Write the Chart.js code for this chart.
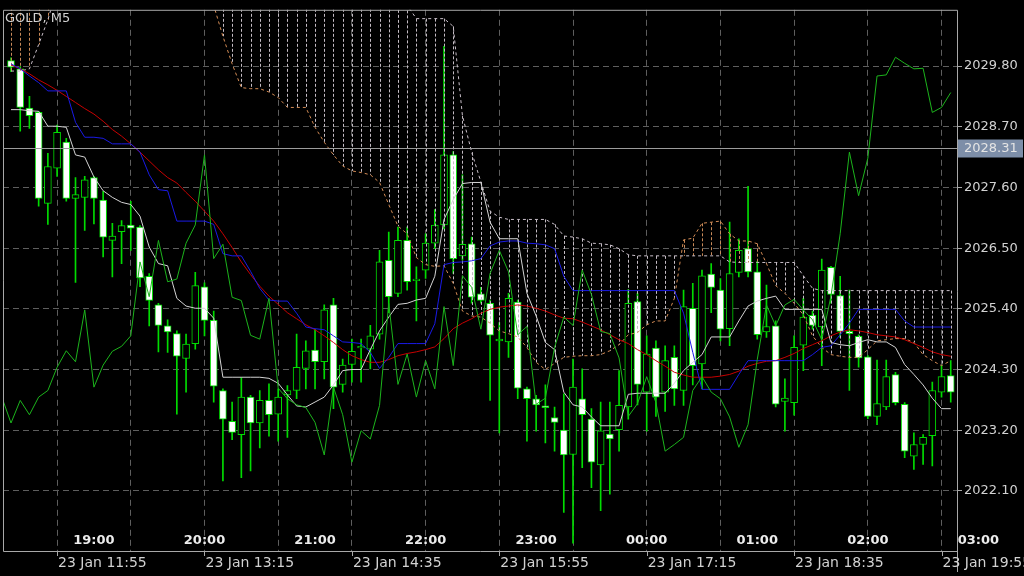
<!DOCTYPE html>
<html>
<head>
<meta charset="utf-8">
<title>GOLD, M5</title>
<script src="https://cdn.jsdelivr.net/npm/chart.js@4.4.1/dist/chart.umd.min.js"></script>
<style>
  html, body { margin: 0; padding: 0; background: #000; overflow: hidden; }
  canvas { display: block; }
</style>
</head>
<body>
<canvas id="chart" width="1024" height="576"></canvas>
<script>
// ---- GOLD M5 : velas + Ichimoku + media ----

const symbolTitle = "GOLD, M5";
const lastPrice = 2028.31;

// OHLC por vela (103 velas, de izquierda a derecha)
const opens = [
  2029.90, 2029.75, 2029.04, 2028.96, 2027.31, 2027.95, 2028.42, 2027.40, 2027.42, 2027.78,
  2027.37, 2026.64, 2026.80, 2026.92, 2026.88, 2025.99, 2025.47, 2025.09, 2024.95, 2024.50,
  2024.77, 2025.80, 2025.19, 2023.92, 2023.36, 2023.12, 2023.80, 2023.33, 2023.74, 2023.49,
  2023.84, 2023.92, 2024.32, 2024.65, 2024.44, 2025.47, 2024.03, 2024.39, 2024.69, 2024.67,
  2024.94, 2026.28, 2025.68, 2026.64, 2025.91, 2026.10, 2026.59, 2026.92, 2028.19, 2026.36,
  2026.58, 2025.67, 2025.50, 2024.82, 2024.80, 2025.52, 2023.95, 2023.77, 2023.64, 2023.43,
  2023.20, 2022.76, 2023.77, 2023.40, 2022.57, 2023.13, 2023.21, 2023.62, 2025.53, 2023.89,
  2024.69, 2023.89, 2024.52, 2023.92, 2025.41, 2024.40, 2026.03, 2025.74, 2025.04, 2026.06,
  2026.49, 2026.07, 2024.98, 2025.09, 2023.72, 2023.70, 2024.74, 2025.28, 2025.07, 2026.15,
  2025.64, 2024.99, 2024.90, 2024.53, 2023.45, 2023.62, 2024.21, 2023.67, 2022.73, 2022.94,
  2023.10, 2023.89, 2024.19
];
const highs = [
  2029.95, 2029.79, 2029.25, 2028.98, 2028.22, 2028.73, 2028.49, 2027.78, 2027.80, 2027.80,
  2027.53, 2026.95, 2027.00, 2027.35, 2026.91, 2026.04, 2025.50, 2025.20, 2025.00, 2024.94,
  2026.06, 2025.87, 2025.36, 2023.95, 2023.71, 2024.16, 2023.83, 2023.92, 2024.04, 2023.95,
  2024.01, 2024.94, 2024.82, 2025.03, 2025.47, 2025.59, 2024.49, 2024.85, 2024.85, 2025.10,
  2026.46, 2026.79, 2026.88, 2026.88, 2026.16, 2026.76, 2027.20, 2030.16, 2028.25, 2027.83,
  2026.70, 2025.79, 2025.56, 2025.15, 2025.68, 2025.56, 2023.98, 2023.83, 2024.02, 2023.62,
  2023.86, 2024.49, 2024.31, 2023.59, 2023.71, 2023.71, 2024.28, 2025.75, 2025.68, 2024.91,
  2024.82, 2024.73, 2024.73, 2025.74, 2025.86, 2026.10, 2026.22, 2025.95, 2026.97, 2026.67,
  2027.62, 2026.26, 2025.83, 2025.18, 2024.13, 2024.91, 2025.59, 2025.36, 2026.30, 2026.17,
  2025.99, 2025.74, 2024.93, 2024.55, 2024.47, 2024.47, 2024.25, 2023.70, 2023.15, 2023.12,
  2024.07, 2024.37, 2024.46
];
const lows = [
  2029.70, 2028.62, 2028.67, 2027.26, 2026.93, 2027.80, 2027.35, 2025.88, 2026.82, 2026.94,
  2026.34, 2025.98, 2026.22, 2026.46, 2025.80, 2025.09, 2024.62, 2024.61, 2023.49, 2023.89,
  2024.67, 2024.91, 2023.71, 2022.28, 2023.03, 2022.34, 2022.46, 2022.88, 2023.09, 2023.00,
  2023.07, 2023.77, 2023.95, 2023.95, 2024.13, 2023.59, 2023.89, 2024.07, 2024.07, 2024.31,
  2024.85, 2025.33, 2025.62, 2025.74, 2025.18, 2025.95, 2026.49, 2026.85, 2026.04, 2026.28,
  2025.50, 2025.50, 2023.74, 2023.15, 2024.52, 2023.77, 2023.00, 2023.18, 2022.97, 2022.82,
  2021.71, 2021.15, 2022.52, 2022.16, 2021.74, 2022.04, 2022.82, 2023.40, 2023.66, 2023.18,
  2023.45, 2023.54, 2023.65, 2023.65, 2024.02, 2023.95, 2025.33, 2024.82, 2024.73, 2025.98,
  2025.98, 2024.85, 2024.88, 2023.62, 2023.18, 2023.47, 2024.28, 2025.03, 2024.37, 2025.50,
  2024.88, 2023.92, 2024.34, 2023.41, 2023.30, 2023.57, 2023.66, 2022.70, 2022.49, 2022.58,
  2022.55, 2023.80, 2023.71
];
const closes = [
  2029.78, 2029.05, 2028.90, 2027.40, 2027.98, 2028.60, 2027.40, 2027.47, 2027.74, 2027.40,
  2026.70, 2026.72, 2026.91, 2026.86, 2025.96, 2025.55, 2025.10, 2024.98, 2024.54, 2024.76,
  2025.82, 2025.19, 2024.00, 2023.40, 2023.16, 2023.80, 2023.33, 2023.74, 2023.48, 2023.80,
  2023.92, 2024.34, 2024.64, 2024.44, 2025.38, 2023.98, 2024.38, 2024.63, 2024.72, 2024.91,
  2026.25, 2025.62, 2026.64, 2025.89, 2025.94, 2026.59, 2026.92, 2028.19, 2026.31, 2026.57,
  2025.61, 2025.55, 2024.92, 2024.85, 2025.59, 2023.96, 2023.77, 2023.66, 2023.61, 2023.34,
  2022.75, 2023.98, 2023.48, 2022.62, 2023.19, 2023.04, 2023.65, 2025.50, 2024.03, 2024.58,
  2023.80, 2024.46, 2023.95, 2025.44, 2024.37, 2026.00, 2025.79, 2025.03, 2026.04, 2026.46,
  2026.07, 2024.93, 2025.08, 2023.67, 2023.78, 2024.70, 2025.25, 2025.10, 2026.10, 2025.66,
  2024.99, 2024.95, 2024.51, 2023.45, 2023.68, 2024.17, 2023.70, 2022.82, 2022.94, 2023.07,
  2023.92, 2024.17, 2023.89
];

// Tenkan-sen (línea gris clara)
const tenkan = [
  2029.01, 2029.01, 2028.99, 2028.98, 2028.71, 2028.71, 2028.69, 2028.19, 2028.15, 2027.79,
  2027.54, 2027.42, 2027.33, 2027.29, 2027.08, 2026.52, 2026.22, 2026.18, 2025.59, 2025.45,
  2025.41, 2025.41, 2025.23, 2024.16, 2024.16, 2024.16, 2024.16, 2024.16, 2024.14, 2024.05,
  2023.84, 2023.64, 2023.62, 2023.71, 2023.80, 2024.02, 2024.28, 2024.30, 2024.30, 2024.66,
  2025.00, 2025.25, 2025.48, 2025.50, 2025.56, 2025.59, 2025.99, 2027.02, 2027.38, 2027.67,
  2027.69, 2027.69, 2026.97, 2026.67, 2026.67, 2026.67, 2025.68, 2025.27, 2024.79, 2024.66,
  2023.89, 2023.66, 2023.62, 2023.44, 2023.28, 2023.28, 2023.28, 2023.85, 2023.87, 2023.87,
  2023.87, 2023.87, 2024.05, 2024.28, 2024.43, 2024.57, 2024.89, 2024.89, 2024.89, 2025.18,
  2025.45, 2025.54, 2025.59, 2025.63, 2025.39, 2025.39, 2025.39, 2025.39, 2025.39, 2024.79,
  2024.75, 2024.73, 2024.79, 2024.84, 2024.80, 2024.80, 2024.70, 2024.39, 2024.21, 2024.02,
  2023.78, 2023.59, 2023.59
];

// Kijun-sen (azul)
const kijun = [
  2029.84, 2029.75, 2029.62, 2029.50, 2029.35, 2029.35, 2029.35, 2028.78, 2028.51, 2028.51,
  2028.49, 2028.39, 2028.39, 2028.39, 2028.24, 2027.83, 2027.56, 2027.54, 2026.99, 2026.99,
  2026.99, 2026.99, 2026.93, 2026.40, 2026.36, 2026.36, 2026.08, 2025.77, 2025.56, 2025.54,
  2025.54, 2025.32, 2025.07, 2025.04, 2025.02, 2024.91, 2024.80, 2024.79, 2024.77, 2024.61,
  2024.32, 2024.52, 2024.77, 2024.77, 2024.77, 2024.77, 2025.13, 2026.20, 2026.24, 2026.25,
  2026.27, 2026.31, 2026.54, 2026.61, 2026.63, 2026.63, 2026.59, 2026.58, 2026.56, 2026.49,
  2025.99, 2025.73, 2025.73, 2025.73, 2025.73, 2025.73, 2025.73, 2025.73, 2025.73, 2025.73,
  2025.73, 2025.73, 2025.73, 2025.32, 2024.61, 2023.94, 2023.94, 2023.94, 2023.94, 2024.21,
  2024.46, 2024.46, 2024.46, 2024.46, 2024.46, 2024.46, 2024.46, 2024.57, 2024.70, 2024.73,
  2024.93, 2025.14, 2025.39, 2025.39, 2025.39, 2025.39, 2025.39, 2025.18, 2025.07, 2025.07,
  2025.07, 2025.07, 2025.07
];

// Media móvil (roja)
const maLine = [
  2029.82, 2029.75, 2029.66, 2029.55, 2029.46, 2029.36, 2029.25, 2029.14, 2029.03, 2028.93,
  2028.80, 2028.65, 2028.53, 2028.39, 2028.24, 2028.08, 2027.92, 2027.78, 2027.68, 2027.51,
  2027.35, 2027.17, 2026.99, 2026.76, 2026.51, 2026.25, 2026.02, 2025.81, 2025.63, 2025.48,
  2025.33, 2025.22, 2025.11, 2025.02, 2024.91, 2024.79, 2024.66, 2024.55, 2024.48, 2024.43,
  2024.43, 2024.48, 2024.55, 2024.59, 2024.62, 2024.66, 2024.71, 2024.86, 2025.04, 2025.14,
  2025.22, 2025.32, 2025.39, 2025.43, 2025.45, 2025.47, 2025.45, 2025.41, 2025.36, 2025.29,
  2025.23, 2025.22, 2025.16, 2025.09, 2025.02, 2024.93, 2024.84, 2024.77, 2024.66, 2024.57,
  2024.46, 2024.36, 2024.25, 2024.20, 2024.16, 2024.16, 2024.16, 2024.18, 2024.21, 2024.27,
  2024.36, 2024.41, 2024.45, 2024.46, 2024.52, 2024.59, 2024.68, 2024.75, 2024.82, 2024.91,
  2024.98, 2025.02, 2025.00, 2024.97, 2024.93, 2024.91, 2024.89, 2024.84, 2024.77, 2024.70,
  2024.62, 2024.57, 2024.54
];

// Senkou Span A (naranja punteada) — los primeros valores quedan por encima del gráfico
const spanA = [
  2031.40, 2031.40, 2031.40, 2031.40, 2031.40, 2031.60, 2031.60, 2031.60, 2031.60, 2031.60,
  2031.60, 2031.60, 2031.60, 2031.60, 2031.60, 2031.60, 2031.60, 2031.60, 2031.60, 2031.60,
  2031.50, 2031.30, 2030.90, 2030.34, 2029.84, 2029.41, 2029.39, 2029.39, 2029.33, 2029.23,
  2029.05, 2029.05, 2029.05, 2028.69, 2028.42, 2028.19, 2027.99, 2027.90, 2027.87, 2027.83,
  2027.69, 2027.29, 2026.90, 2026.76, 2026.33, 2026.20, 2026.17, 2026.18, 2025.86, 2025.36,
  2025.27, 2025.25, 2025.14, 2025.00, 2024.95, 2024.89, 2024.70, 2024.43, 2024.30, 2024.41,
  2024.52, 2024.54, 2024.55, 2024.55, 2024.57, 2024.64, 2024.75, 2024.93, 2024.97, 2025.11,
  2025.18, 2025.18, 2025.59, 2026.65, 2026.68, 2026.95, 2026.97, 2026.99, 2026.76, 2026.63,
  2026.63, 2026.58, 2026.22, 2025.82, 2025.68, 2025.50, 2025.29, 2024.91, 2024.70, 2024.57,
  2024.54, 2024.52, 2024.52, 2024.66, 2024.82, 2024.84, 2024.86, 2024.86, 2024.79, 2024.57,
  2024.46, 2024.37, 2024.46
];

// Senkou Span B (gris punteada)
const spanB = [
  2029.71, 2029.71, 2029.75, 2030.19, 2030.64, 2031.20, 2031.20, 2031.20, 2031.20, 2031.20,
  2031.20, 2031.20, 2031.20, 2031.20, 2031.20, 2031.20, 2031.20, 2031.20, 2031.20, 2031.20,
  2031.20, 2031.20, 2031.20, 2031.20, 2031.20, 2031.20, 2031.20, 2031.20, 2031.20, 2031.20,
  2031.20, 2031.20, 2031.20, 2031.20, 2031.20, 2031.20, 2031.20, 2031.20, 2031.20, 2031.20,
  2031.20, 2031.10, 2031.00, 2030.90, 2030.66, 2030.66, 2030.66, 2030.66, 2030.52, 2028.90,
  2028.24, 2027.70, 2027.17, 2027.06, 2027.02, 2027.02, 2027.02, 2027.02, 2027.02, 2026.93,
  2026.72, 2026.70, 2026.67, 2026.59, 2026.58, 2026.56, 2026.49, 2026.38, 2026.36, 2026.36,
  2026.36, 2026.36, 2026.36, 2026.36, 2026.36, 2026.36, 2026.36, 2026.36, 2026.25, 2026.24,
  2026.24, 2026.24, 2026.24, 2026.24, 2026.24, 2026.24, 2026.00, 2025.77, 2025.73, 2025.73,
  2025.73, 2025.73, 2025.73, 2025.73, 2025.73, 2025.73, 2025.73, 2025.73, 2025.73, 2025.73,
  2025.73, 2025.73, 2025.73
];

// Chikou span (verde), empieza una vela antes de la primera visible
const chikouStart = -1;
const chikou = [
  2023.80,
  2023.33, 2023.74, 2023.48, 2023.80, 2023.92, 2024.34, 2024.64, 2024.44, 2025.38, 2023.98,
  2024.38, 2024.63, 2024.72, 2024.91, 2026.25, 2025.62, 2026.64, 2025.89, 2025.94, 2026.59,
  2026.92, 2028.19, 2026.31, 2026.57, 2025.61, 2025.55, 2024.92, 2024.85, 2025.59, 2023.96,
  2023.77, 2023.66, 2023.61, 2023.34, 2022.75, 2023.98, 2023.48, 2022.62, 2023.19, 2023.04,
  2023.65, 2025.50, 2024.03, 2024.58, 2023.80, 2024.46, 2023.95, 2025.44, 2024.37, 2026.00,
  2025.79, 2025.03, 2026.04, 2026.46, 2026.07, 2024.93, 2025.08, 2023.67, 2023.78, 2024.70,
  2025.25, 2025.10, 2026.10, 2025.66, 2024.99, 2024.95, 2024.51, 2023.45, 2023.68, 2024.17,
  2023.70, 2022.82, 2022.94, 2023.07, 2023.92, 2024.17, 2023.89, 2023.77, 2023.44, 2022.89,
  2023.30, 2024.48, 2025.47, 2025.09, 2025.47, 2025.57, 2025.38, 2025.20, 2024.84, 2025.63,
  2026.76, 2028.24, 2027.45, 2028.13, 2029.62, 2029.64, 2029.96, 2029.85, 2029.75, 2029.76,
  2028.96, 2029.05, 2029.32
];

// Ejes
const priceTicks = [2022.10, 2023.20, 2024.30, 2025.40, 2026.50, 2027.60, 2028.70, 2029.80];
const gridBars = [5, 13, 21, 29, 37, 45, 53, 61, 69, 77, 85, 93, 101];
const dateBars = [5, 21, 37, 53, 69, 85, 101];
const dateLabels = ["23 Jan 11:55", "23 Jan 13:15", "23 Jan 14:35", "23 Jan 15:55",
                    "23 Jan 17:15", "23 Jan 18:35", "23 Jan 19:55"];
const hourBars = [9, 21, 33, 45, 57, 69, 81, 93, 105];
const hourLabels = ["19:00", "20:00", "21:00", "22:00", "23:00", "00:00", "01:00", "02:00", "03:00"];

// Colores
const CANDLE = "#00dc00";
const GRID = "#5e5e5e";
const FRAME = "#a8a8a8";
const TEXT = "#d2d2d2";
const FONT = "'DejaVu Sans', sans-serif";

const BODY_INDEX = 1;

const points = (arr, start = 0) => arr.map((v, i) => ({ x: i + start, y: v }));

function lineSet(label, data, color, order, dash) {
    return {
        type: "line",
        label: label,
        data: data,
        borderColor: color,
        borderWidth: 1,
        borderDash: dash || [],
        pointRadius: 0,
        tension: 0,
        fill: false,
        order: order
    };
}

// Nube de Ichimoku: rayas verticales punteadas entre span A y span B
function drawCloud(chart) {
    const { ctx, chartArea: a, scales: { x, y } } = chart;
    ctx.save();
    ctx.beginPath();
    ctx.rect(a.left, a.top, a.right - a.left, a.bottom - a.top);
    ctx.clip();
    ctx.lineWidth = 1;
    ctx.setLineDash([3, 2]);
    spanA.forEach((va, i) => {
        const vb = spanB[i];
        const px = Math.round(x.getPixelForValue(i)) + 0.5;
        ctx.strokeStyle = va > vb ? "#c98a58" : "#c4bcc4";
        ctx.beginPath();
        ctx.moveTo(px, y.getPixelForValue(Math.max(va, vb)));
        ctx.lineTo(px, y.getPixelForValue(Math.min(va, vb)));
        ctx.stroke();
    });
    ctx.restore();
}

const mtOverlay = {
    id: "mtOverlay",
    beforeDraw(chart) {
        const { ctx, width, height } = chart;
        ctx.save();
        ctx.fillStyle = "#000";
        ctx.fillRect(0, 0, width, height);
        ctx.restore();
    },
    afterDatasetDraw(chart, args) {
        if (args.index === BODY_INDEX) drawCloud(chart);
    },
    afterDraw(chart) {
        const { ctx, chartArea: a, scales: { x, y } } = chart;
        ctx.save();

        // marco
        ctx.strokeStyle = FRAME;
        ctx.lineWidth = 1;
        ctx.setLineDash([]);
        ctx.beginPath();
        ctx.moveTo(a.left + 0.5, a.top + 0.5);
        ctx.lineTo(a.right + 0.5, a.top + 0.5);
        ctx.lineTo(a.right + 0.5, 572);
        ctx.moveTo(a.left + 0.5, a.top + 0.5);
        ctx.lineTo(a.left + 0.5, a.bottom + 0.5);
        ctx.lineTo(a.right + 0.5, a.bottom + 0.5);
        ctx.stroke();

        // marcas bajo el eje en cada fecha
        dateBars.forEach((b) => {
            const px = Math.round(x.getPixelForValue(b)) + 0.5;
            ctx.beginPath();
            ctx.moveTo(px, a.bottom);
            ctx.lineTo(px, a.bottom + 5);
            ctx.stroke();
        });

        // línea de precio actual + etiqueta
        const py = Math.round(y.getPixelForValue(lastPrice)) + 0.5;
        ctx.strokeStyle = "#9c9c9c";
        ctx.beginPath();
        ctx.moveTo(a.left, py);
        ctx.lineTo(a.right, py);
        ctx.stroke();
        ctx.fillStyle = "#7d8ea8";
        ctx.fillRect(a.right + 1, py - 9, 65, 18);
        ctx.fillStyle = "#e4e4e4";
        ctx.font = "13px " + FONT;
        ctx.textAlign = "left";
        ctx.textBaseline = "middle";
        ctx.fillText(lastPrice.toFixed(2), a.right + 7, py);

        // título
        ctx.fillStyle = TEXT;
        ctx.fillText(symbolTitle, 5, 19);

        // horas locales dentro del gráfico
        ctx.fillStyle = "#ececec";
        ctx.font = "bold 13px " + FONT;
        ctx.textAlign = "center";
        hourBars.forEach((b, i) => {
            ctx.fillText(hourLabels[i], x.getPixelForValue(b), a.bottom - 10);
        });

        // fechas bajo el eje
        ctx.fillStyle = TEXT;
        ctx.font = "14px " + FONT;
        ctx.textAlign = "left";
        dateBars.forEach((b, i) => {
            ctx.fillText(dateLabels[i], x.getPixelForValue(b) + 1, a.bottom + 12);
        });
        ctx.restore();
    }
};

const barIdx = opens.map((_, i) => i);

new Chart(document.getElementById("chart"), {
    type: "bar",
    data: {
        datasets: [
            {
                label: "wicks",
                data: barIdx.map(i => ({ x: i, y: [lows[i], highs[i]] })),
                backgroundColor: CANDLE,
                borderWidth: 0,
                barThickness: 1,
                grouped: false,
                order: 11
            },
            {
                label: "bodies",
                data: barIdx.map(i => ({ x: i, y: [opens[i], closes[i]] })),
                backgroundColor: (ctx) => closes[ctx.dataIndex] >= opens[ctx.dataIndex] ? "#000000" : "#ffffff",
                borderColor: CANDLE,
                borderWidth: 1,
                borderSkipped: false,
                barThickness: 7,
                grouped: false,
                order: 10
            },
            lineSet("Senkou A", points(spanA), "#d48c55", 5, [3, 3]),
            lineSet("Senkou B", points(spanB), "#c8bec8", 4, [3, 3]),
            lineSet("MA", points(maLine), "#c80000", 3),
            lineSet("Kijun", points(kijun), "#1a1ae6", 2),
            lineSet("Tenkan", points(tenkan), "#d4d4d4", 1),
            lineSet("Chikou", points(chikou, chikouStart), "#1cb41c", 0)
        ]
    },
    options: {
        responsive: false,
        animation: false,
        devicePixelRatio: 1,
        layout: { padding: { left: 3, top: 3, right: 0, bottom: 0 } },
        plugins: {
            legend: { display: false },
            tooltip: { enabled: false }
        },
        scales: {
            x: {
                type: "linear",
                min: -0.87,
                max: 102.68,
                bounds: "data",
                offset: false,
                afterBuildTicks: (s) => { s.ticks = gridBars.map(v => ({ value: v })); },
                afterFit: (s) => { s.height = 25; },
                ticks: { display: false },
                grid: {
                    offset: false,
                    color: GRID,
                    lineWidth: 1,
                    drawTicks: false
                },
                border: { display: false, dash: [6, 4] }
            },
            y: {
                type: "linear",
                position: "right",
                min: 2021.01,
                max: 2030.82,
                bounds: "data",
                afterBuildTicks: (s) => { s.ticks = priceTicks.map(v => ({ value: v })); },
                afterFit: (s) => { s.width = 67; },
                ticks: {
                    color: TEXT,
                    padding: 2,
                    font: { family: "'DejaVu Sans'", size: 13 },
                    callback: (v) => Number(v).toFixed(2)
                },
                grid: {
                    offset: false,
                    color: GRID,
                    lineWidth: 1,
                    tickLength: 5,
                    tickColor: FRAME,
                    tickBorderDash: []
                },
                border: { display: false, dash: [6, 4] }
            }
        }
    },
    plugins: [mtOverlay]
});
</script>
</body>
</html>
